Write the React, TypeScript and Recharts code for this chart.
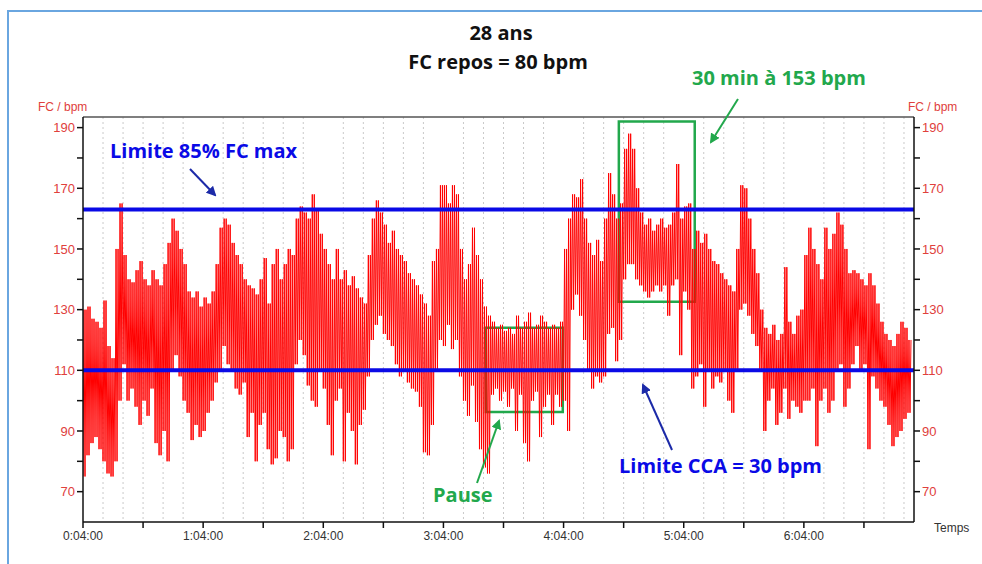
import { LineChart, Line, XAxis, YAxis, CartesianGrid, ReferenceLine, ReferenceArea } from 'recharts';

// heart rate, read per 2-minute bin as (low, high) — one pair of arrays per hour
const hourStarts = [4, 64, 124, 184, 244, 304, 364];

const lo0 = [75, 82, 86, 88, 84, 80, 76, 75, 80, 100, 112, 100, 104, 98, 92, 100, 95, 104, 86, 82, 90, 80, 110, 115, 108, 100, 96, 87, 92, 88];
const hi0 = [130, 131, 127, 126, 124, 133, 118, 114, 150, 165, 148, 140, 139, 143, 146, 140, 138, 143, 140, 138, 145, 152, 160, 156, 150, 145, 136, 134, 136, 131];

const lo1 = [90, 96, 100, 106, 110, 118, 112, 110, 104, 102, 106, 88, 96, 80, 92, 96, 84, 79, 81, 90, 88, 80, 84, 112, 120, 115, 105, 100, 98, 110];
const hi1 = [134, 132, 136, 145, 157, 160, 158, 152, 148, 145, 140, 138, 137, 135, 140, 147, 132, 145, 150, 140, 145, 150, 148, 160, 164, 162, 160, 168, 163, 155];

const lo2 = [104, 92, 82, 100, 104, 80, 96, 90, 79, 92, 97, 108, 120, 125, 128, 122, 120, 118, 112, 108, 110, 106, 104, 103, 98, 83, 82, 92, 110, 120];
const hi2 = [150, 145, 140, 150, 140, 143, 138, 141, 137, 134, 132, 148, 160, 166, 162, 158, 152, 156, 150, 148, 146, 142, 140, 138, 135, 132, 128, 146, 150, 171];

const lo3 = [118, 125, 117, 120, 108, 100, 95, 105, 93, 84, 78, 76, 102, 104, 100, 103, 98, 104, 90, 102, 86, 80, 100, 103, 88, 98, 102, 92, 102, 98];
const hi3 = [171, 165, 171, 168, 150, 140, 145, 157, 148, 140, 131, 128, 126, 124, 125, 123, 124, 122, 128, 124, 126, 129, 124, 125, 128, 126, 124, 125, 124, 126];

const lo4 = [100, 90, 130, 135, 128, 120, 110, 104, 108, 106, 108, 122, 124, 113, 120, 140, 145, 145, 140, 138, 136, 134, 136, 138, 136, 138, 128, 138, 140, 115];
const hi4 = [150, 160, 168, 167, 173, 160, 152, 148, 153, 146, 160, 175, 168, 160, 165, 183, 188, 183, 170, 162, 158, 160, 156, 158, 160, 157, 158, 162, 178, 160];

const lo5 = [136, 130, 104, 108, 112, 98, 110, 104, 108, 106, 110, 100, 96, 110, 130, 132, 128, 122, 118, 110, 90, 100, 104, 92, 96, 104, 94, 100, 98, 96];
const hi5 = [164, 165, 150, 156, 152, 155, 150, 146, 145, 142, 140, 138, 136, 150, 171, 170, 160, 150, 142, 130, 124, 122, 125, 120, 122, 144, 126, 122, 128, 130];

const lo6 = [100, 100, 104, 85, 100, 104, 96, 100, 110, 112, 98, 104, 112, 118, 110, 112, 84, 108, 104, 100, 98, 92, 85, 88, 90, 94, 96];
const hi6 = [148, 157, 150, 145, 140, 157, 150, 155, 162, 158, 150, 142, 143, 142, 140, 138, 142, 138, 132, 126, 122, 120, 118, 122, 126, 124, 120];

const lows = [lo0, lo1, lo2, lo3, lo4, lo5, lo6];
const highs = [hi0, hi1, hi2, hi3, hi4, hi5, hi6];

const limitFcMax = 163;
const limitCca = 110;

const pauseBox = { x1: 205.2, x2: 243.6, y1: 96.3, y2: 124 };
const effortBox = { x1: 271.6, x2: 309.5, y1: 132.6, y2: 192 };

const xTicks = [4, 34, 64, 94, 124, 154, 184, 214, 244, 274, 304, 334, 364, 394];
const yTicks = [70, 80, 90, 100, 110, 120, 130, 140, 150, 160, 170, 180, 190];
const gridY = [70, 90, 110, 130, 150, 170, 190];
const gridX = Array.from({ length: 41 }, (_, i) => 14 + i * 10);

// each bin is drawn as a fast low/high oscillation (samples every 30 s)
const data = hourStarts.flatMap((start, h) =>
  lows[h].flatMap((l, i) => {
    const t = start + 2 * i;
    const hi = highs[h][i];
    return [
      { t, v: l },
      { t: t + 0.5, v: hi },
      { t: t + 1, v: l },
      { t: t + 1.5, v: hi },
    ];
  })
);

const RED = '#ff0000';
const AXIS_RED = '#e0403c';
const BLUE = '#0a0ae6';
const NAVY = '#1c2aa8';
const GREEN = '#22a84c';

const fmtTime = (t: number) => {
  if (t % 60 !== 4) return '';
  return `${Math.floor(t / 60)}:04:00`;
};
const fmtY = (v: number) => ((v - 70) % 20 === 0 ? String(v) : '');

export default function App() {
  const sans = '"Liberation Sans", Arial, sans-serif';
  const bold = '"Open Sans", "Noto Sans", sans-serif';
  return (
    <div style={{ position: 'absolute', left: 0, top: 0, width: 982, height: 564, background: '#fff', fontFamily: sans }}>
      {/* light blue frame of the slide */}
      <div style={{ position: 'absolute', left: 7, top: 10, width: 975, height: 554, borderLeft: '2px solid #6aa6e0', borderTop: '2px solid #6aa6e0' }} />

      <LineChart width={982} height={564} data={data} margin={{ top: 117, right: 28, bottom: 12, left: 43 }}>
        <CartesianGrid
          stroke="#c9c9c9"
          strokeDasharray="2 3"
          horizontalValues={gridY}
          verticalValues={gridX}
        />
        <XAxis
          dataKey="t"
          type="number"
          domain={[4, 419]}
          ticks={xTicks}
          tickFormatter={fmtTime}
          allowDataOverflow
          height={30}
          tickSize={6}
          tickMargin={3}
          axisLine={{ stroke: '#111', strokeWidth: 1.5 }}
          tickLine={{ stroke: '#111', strokeWidth: 1.5 }}
          tick={{ fill: '#333', fontSize: 12, fontFamily: sans }}
        />
        <YAxis
          yAxisId="l"
          type="number"
          domain={[60, 193.5]}
          ticks={yTicks}
          tickFormatter={fmtY}
          allowDataOverflow
          width={40}
          tickSize={6}
          axisLine={{ stroke: '#111', strokeWidth: 1.5 }}
          tickLine={{ stroke: '#111', strokeWidth: 1.5 }}
          tick={{ fill: AXIS_RED, fontSize: 13, fontFamily: sans }}
        />
        <YAxis
          yAxisId="r"
          orientation="right"
          type="number"
          domain={[60, 193.5]}
          ticks={yTicks}
          tickFormatter={fmtY}
          allowDataOverflow
          width={40}
          tickSize={6}
          axisLine={{ stroke: '#111', strokeWidth: 1.5 }}
          tickLine={{ stroke: '#111', strokeWidth: 1.5 }}
          tick={{ fill: AXIS_RED, fontSize: 13, fontFamily: sans }}
        />
        <ReferenceLine yAxisId="l" y={193.5} stroke="#555" strokeWidth={1.5} />
        <Line
          yAxisId="l"
          dataKey="v"
          type="linear"
          stroke={RED}
          strokeWidth={1}
          dot={false}
          isAnimationActive={false}
        />
        <ReferenceLine yAxisId="l" y={limitFcMax} stroke={BLUE} strokeWidth={4} />
        <ReferenceLine yAxisId="l" y={limitCca} stroke={BLUE} strokeWidth={4} />
        <ReferenceArea yAxisId="l" {...pauseBox} fill="none" stroke={GREEN} strokeWidth={2.5} />
        <ReferenceArea yAxisId="l" {...effortBox} fill="none" stroke={GREEN} strokeWidth={2.5} />
      </LineChart>

      {/* titles and annotations */}
      <svg width={982} height={564} style={{ position: 'absolute', left: 0, top: 0, pointerEvents: 'none' }}>
        <defs>
          <marker id="ab" viewBox="0 0 10 10" refX="8" refY="5" markerWidth="5" markerHeight="5" orient="auto">
            <path d="M0,0 L10,5 L0,10 z" fill={NAVY} />
          </marker>
          <marker id="ag" viewBox="0 0 10 10" refX="8" refY="5" markerWidth="5" markerHeight="5" orient="auto">
            <path d="M0,0 L10,5 L0,10 z" fill={GREEN} />
          </marker>
        </defs>
        <text x={501} y={40} textAnchor="middle" fontFamily={bold} fontWeight="bold" fontSize={20} fill="#111">28 ans</text>
        <text x={498} y={69} textAnchor="middle" fontFamily={bold} fontWeight="bold" fontSize={20} fill="#111">FC repos = 80 bpm</text>

        <text x={38} y={111} fontFamily={sans} fontSize={12} fill={AXIS_RED}>FC / bpm</text>
        <text x={908} y={111} fontFamily={sans} fontSize={12} fill={AXIS_RED}>FC / bpm</text>
        <text x={934} y={532} fontFamily={sans} fontSize={12} fill="#333">Temps</text>

        <text x={110} y={158} fontFamily={bold} fontWeight="bold" fontSize={20} fill={BLUE}>Limite 85% FC max</text>
        <line x1={190} y1={169} x2={215} y2={195} stroke={NAVY} strokeWidth={2} markerEnd="url(#ab)" />

        <text x={619} y={473} fontFamily={bold} fontWeight="bold" fontSize={20} fill={BLUE}>Limite CCA = 30 bpm</text>
        <line x1={672} y1={450} x2={643} y2={385} stroke={NAVY} strokeWidth={2} markerEnd="url(#ab)" />

        <text x={433} y={502} fontFamily={bold} fontWeight="bold" fontSize={20} fill={GREEN}>Pause</text>
        <line x1={477} y1={483} x2={499} y2={421} stroke={GREEN} strokeWidth={2} markerEnd="url(#ag)" />

        <text x={692} y={85} fontFamily={bold} fontWeight="bold" fontSize={20} fill={GREEN}>30 min à 153 bpm</text>
        <line x1={738} y1={99} x2={711} y2={142} stroke={GREEN} strokeWidth={2} markerEnd="url(#ag)" />
      </svg>
    </div>
  );
}
